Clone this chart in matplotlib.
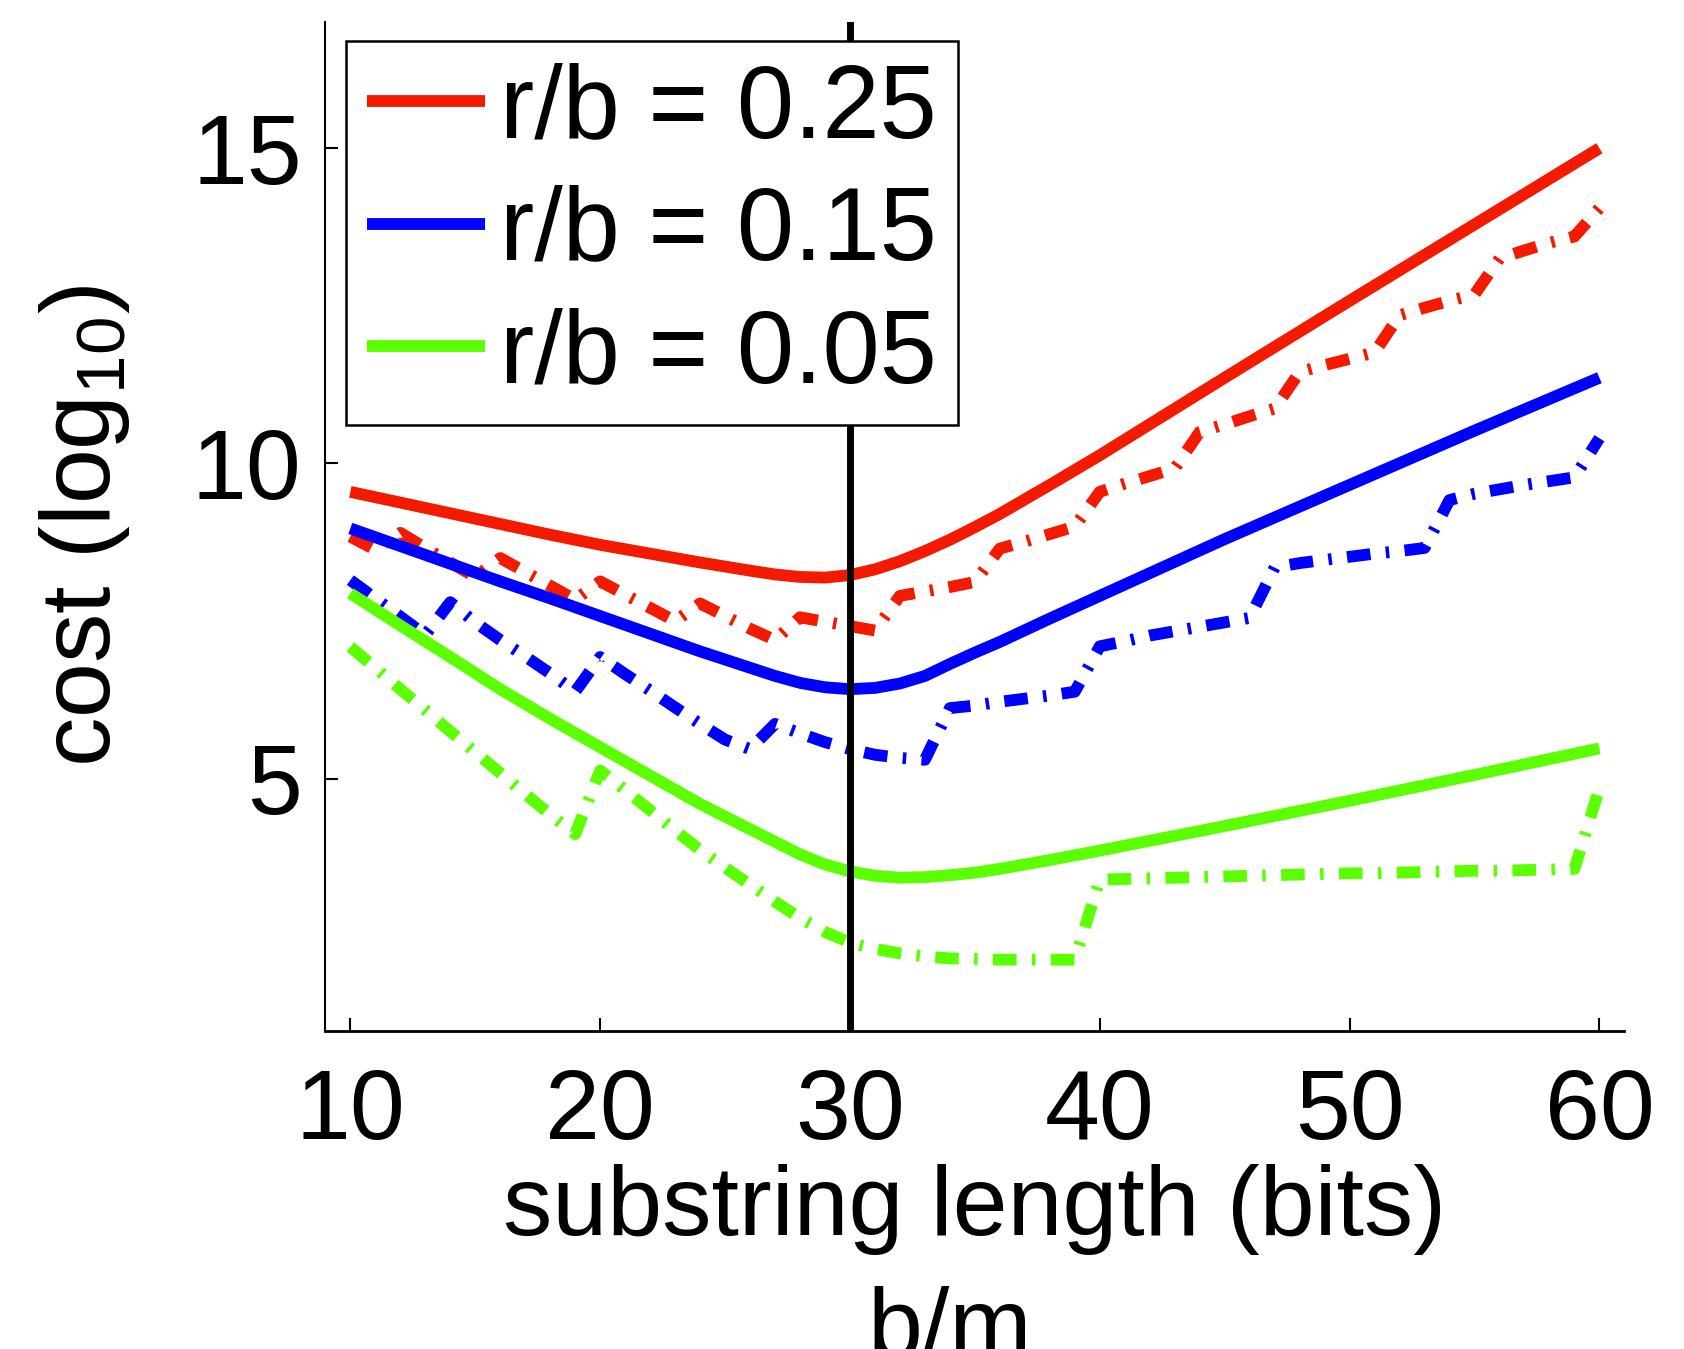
# -*- coding: UTF-8 -*-
# cost vs substring length, solid = model, dash-dot = integer r
import matplotlib
matplotlib.use('Agg')
import matplotlib.pyplot as plt

# substring length b/m (bits)
x_solid = [10, 12, 14, 16, 18, 20, 22, 24, 26, 27, 28, 29, 30, 31, 32, 33,
           34, 35, 36, 38, 40, 45, 50, 55, 60]
red_solid = [9.55, 9.38, 9.21, 9.04, 8.87, 8.71, 8.57, 8.43, 8.30, 8.24, 8.20,
             8.19, 8.23, 8.32, 8.45, 8.61, 8.79, 8.99, 9.20, 9.66, 10.13, 11.36,
             12.58, 13.79, 15.00]
blue_solid = [8.97, 8.69, 8.41, 8.13, 7.86, 7.58, 7.30, 7.02, 6.76, 6.63, 6.52,
              6.45, 6.42, 6.44, 6.51, 6.63, 6.82, 7.00, 7.17, 7.54, 7.90, 8.80,
              9.66, 10.52, 11.36]
green_solid = [7.94, 7.43, 6.93, 6.42, 5.95, 5.50, 5.05, 4.60, 4.20, 4.00, 3.80,
               3.64, 3.53, 3.46, 3.43, 3.44, 3.47, 3.51, 3.57, 3.71, 3.86, 4.25,
               4.65, 5.06, 5.48]

x_step = list(range(10, 61))
red_step = [8.84, 8.63,
            8.90, 8.66, 8.43, 8.20,
            8.50, 8.28, 8.06, 7.84,
            8.13, 7.92, 7.71, 7.50,
            7.78, 7.58, 7.38, 7.20,
            7.56, 7.49, 7.42, 7.35,
            7.90, 7.97, 8.04, 8.12,
            8.65, 8.76, 8.88, 9.00,
            9.55, 9.68, 9.80, 9.92,
            10.50, 10.62, 10.75, 10.87,
            11.45, 11.56, 11.66, 11.76,
            12.35, 12.47, 12.58, 12.68,
            13.25, 13.38, 13.50, 13.60,
            14.05]
blue_step = [8.15, 7.86, 7.57, 7.28,
             7.80, 7.48, 7.20, 6.94, 6.67, 6.38,
             6.93, 6.66, 6.40, 6.13, 5.87, 5.62, 5.47,
             5.87, 5.72, 5.58, 5.47, 5.38, 5.33, 5.30,
             6.12, 6.16, 6.22, 6.27, 6.32, 6.38,
             7.10, 7.18, 7.27, 7.34, 7.41, 7.48, 7.55,
             8.35, 8.42, 8.47, 8.52, 8.57, 8.61, 8.66,
             9.42, 9.52, 9.59, 9.66, 9.72, 9.78,
             10.40]
green_step = [7.09, 6.76, 6.42, 6.09, 5.75, 5.42, 5.09, 4.76, 4.43, 4.12,
              5.13, 4.82, 4.50, 4.18, 3.87, 3.59, 3.32, 3.05, 2.79, 2.57,
              2.40, 2.30, 2.23, 2.18, 2.15, 2.14, 2.13, 2.13, 2.13, 2.13,
              3.40, 3.41, 3.42, 3.43, 3.44, 3.45, 3.46, 3.47, 3.48, 3.49,
              3.50, 3.50, 3.51, 3.52, 3.53, 3.54, 3.54, 3.55, 3.56, 3.57,
              4.85]

labels = ['r/b = 0.25', 'r/b = 0.15', 'r/b = 0.05']
colors = ['#f41a00', '#0000ff', '#5cff00']
x_ticks = [10, 20, 30, 40, 50, 60]
y_ticks = [5, 10, 15]
b_opt = 30


def main():
    plt.rcParams['font.family'] = ['Liberation Sans', 'DejaVu Sans']
    plt.rcParams['mathtext.fontset'] = 'custom'
    plt.rcParams['mathtext.rm'] = 'Liberation Sans'
    plt.rcParams['mathtext.it'] = 'Liberation Sans:italic'
    fs = 71

    fig = plt.figure(figsize=(16.84, 13.49), dpi=100)
    ax = fig.add_axes([0.1932, 0.2358, 0.7714, 0.7478])

    dashdot = (0, (2.0, 1.3, 0.3, 1.3))
    solids = [red_solid, blue_solid, green_solid]
    steps = [red_step, blue_step, green_step]
    for ys, yd, c, lab in zip(solids, steps, colors, labels):
        ax.plot(x_solid, ys, color=c, lw=8.5, label=lab, solid_capstyle='butt',
                solid_joinstyle='round')
        ax.plot(x_step, yd, color=c, lw=8.5, linestyle=dashdot)

    ax.axvline(b_opt, color='black', lw=5, zorder=5)

    ax.set_xlim(9, 61)
    ax.set_ylim(1, 17)
    ax.set_xticks(x_ticks)
    ax.set_yticks(y_ticks)
    ax.spines['top'].set_visible(False)
    ax.spines['right'].set_visible(False)
    ax.spines['left'].set_linewidth(1.5)
    ax.spines['bottom'].set_linewidth(2.0)
    ax.tick_params(axis='both', direction='in', length=9.5, width=1.5,
                   labelsize=fs)
    ax.tick_params(axis='x', pad=27)
    ax.tick_params(axis='y', pad=17)

    leg = ax.legend(loc='upper left', bbox_to_anchor=(0.016, 0.981),
                    borderaxespad=0, fontsize=74, handlelength=1.15,
                    handletextpad=0.15, borderpad=0.2, labelspacing=0.25,
                    fancybox=False, framealpha=1, edgecolor='black')
    leg.get_frame().set_linewidth(1.8)
    leg.set_zorder(10)

    fig.text(84 / 1684, 1 - 526 / 1349, 'cost (log$_{10}$)', rotation=90,
             ha='center', va='center', fontsize=fs)
    fig.text(975 / 1684, 1 - 1235 / 1349, 'substring length (bits)',
             ha='center', va='baseline', fontsize=fs)
    fig.text(950 / 1684, 1 - 1356 / 1349, 'b/m',
             ha='center', va='baseline', fontsize=fs)

    fig.savefig('out.png', dpi=100)


if __name__ == '__main__':
    main()
